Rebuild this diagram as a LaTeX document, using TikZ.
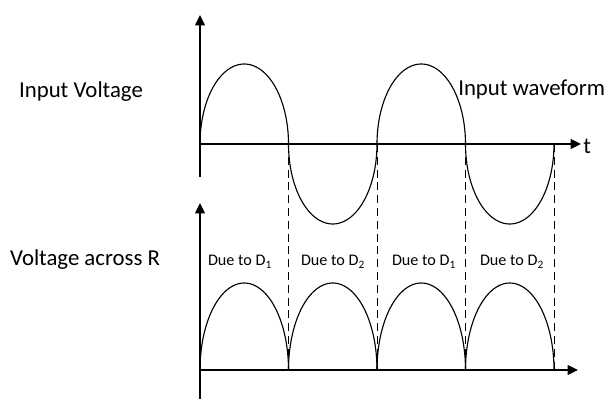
\documentclass[tikz,border=0pt]{standalone}
\usepackage{fontspec}
\setmainfont{Carlito}
\usetikzlibrary{arrows.meta,positioning}

\begin{document}
\begin{tikzpicture}[
          x=0.025cm, y=-0.025cm,
          lbl/.style={font=\fontsize{16.2}{19}\selectfont, inner sep=0pt},
          due/.style={font=\fontsize{11.5}{14}\selectfont, inner sep=0pt},
          axis/.style={-{Triangle[length=2.6mm,width=2.4mm]}, line width=1.3pt},
          wave/.style={line width=0.8pt},
          guide/.style={dash pattern=on 2mm off 1.2mm, line width=0.6pt}
        ]
        \useasboundingbox (0,0) rectangle (605,399);
        % axes
        \coordinate (o1) at (200,144);
        \coordinate (o2) at (200,370);
        \draw[axis] (200,177) -- (200,15);
        \draw[axis] (o1) -- (581,144);
        \draw[axis] (200,399) -- (200,203);
        \draw[axis] (o2) -- (578,370);
        \node[lbl, anchor=west] (t) at (583,146) {t};
        % input waveform (top) and voltage across R (bottom), half a cycle each
        \foreach \k/\s in {0/1,1/-1,2/1,3/-1} {
          \draw[wave] plot[domain=0:180, samples=61, variable=\t] ({200+88.5*\k+44.25*(1-cos(\t))}, {144-\s*80*sin(\t)});
          \draw[wave] plot[domain=0:180, samples=61, variable=\t] ({200+88.5*\k+44.25*(1-cos(\t))}, {370-87*sin(\t)});
        }
        \draw[guide] (288.5,144) -- (288.5,370);
        \draw[guide] (377,144) -- (377,370);
        \draw[guide] (465.5,144) -- (465.5,370);
        \draw[guide] (554,144) -- (554,370);
        % labels
        \node[lbl] (vin) at (81,92) {Input Voltage};
        \node[lbl, anchor=west] (wf) at (458,90) {Input waveform};
        \node[lbl] (vr) at (85,260) {Voltage across R};
        \node[due] (da) at (240,262) {Due to D\textsubscript{1}};
        \node[due] (db) at (333,262) {Due to D\textsubscript{2}};
        \node[due] (dc) at (424,262) {Due to D\textsubscript{1}};
        \node[due] (dd) at (512,262) {Due to D\textsubscript{2}};
      \end{tikzpicture}
\end{document}
